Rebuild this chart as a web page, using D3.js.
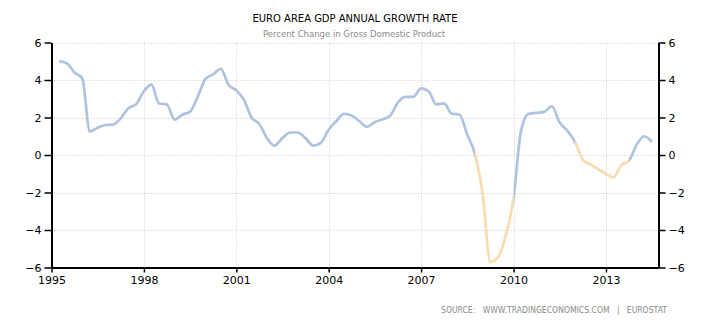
<!DOCTYPE html>
<html><head><meta charset="utf-8">
<script src="https://cdn.jsdelivr.net/npm/d3@7"></script>
<style>body{margin:0;background:#fff;}svg{display:block;}</style>
</head><body><svg id="c" width="710" height="325"></svg>
<script>
const quarters = [];
for (let y = 1995; y <= 2014; y++) for (let q = 1; q <= 4; q++) if (!(y === 2014 && q > 2)) quarters.push(y + "Q" + q);
const growth = [
  5.0, 4.9, 4.4, 4.1,
  1.25, 1.45, 1.6, 1.62,
  1.95, 2.5, 2.7, 3.4,
  3.75, 2.75, 2.7, 1.88,
  2.15, 2.3, 3.1, 4.05,
  4.3, 4.6, 3.75, 3.45,
  2.95, 2.0, 1.65, 0.9,
  0.5, 0.9, 1.2, 1.2,
  0.9, 0.5, 0.65, 1.35,
  1.8, 2.2, 2.1, 1.8,
  1.5, 1.75, 1.9, 2.1,
  2.8, 3.1, 3.1, 3.55,
  3.4, 2.7, 2.75, 2.2,
  2.15, 1.1, 0.05, -2.1,
  -5.7, -5.45, -4.3, -2.35,
  1.3, 2.2, 2.25, 2.3,
  2.6, 1.75, 1.3, 0.7,
  -0.25, -0.5, -0.75, -1.0,
  -1.2, -0.55, -0.3, 0.55,
  1.0, 0.7
];
const highlightRanges = [["2008Q3", "2009Q4"], ["2011Q4", "2013Q3"]];
const yTicks = [-6, -4, -2, 0, 2, 4, 6];
const xTickYears = [1995, 1998, 2001, 2004, 2007, 2010, 2013];

const title = "EURO AREA GDP ANNUAL GROWTH RATE";
const subtitle = "Percent Change in Gross Domestic Product";
const source = "SOURCE:   WWW.TRADINGECONOMICS.COM   |   EUROSTAT";

function qDate(s) { const y = +s.slice(0, 4), q = +s.slice(5); return new Date(y, q * 3, 0); }
const data = quarters.map((q, i) => ({ date: qDate(q), v: growth[i] }));

const svg = d3.select("#c");
const L = 51.5, R = 658.5, T = 42.5, B = 267.5;
const x = d3.scaleTime().domain([new Date(1995, 0, 1), new Date(2014, 8, 16)]).range([L, R]);
const y = d3.scaleLinear().domain([-6, 6]).range([B, T]);
const font = "DejaVu Sans, Verdana, sans-serif";

// grid
const g = svg.append("g");
g.selectAll(".hg").data(yTicks).enter().append("line")
  .attr("x1", L).attr("x2", R).attr("y1", d => Math.round(y(d)) + 0.5).attr("y2", d => Math.round(y(d)) + 0.5)
  .attr("stroke", "#c8c8c8").attr("stroke-dasharray", "1,2");
g.selectAll(".vg").data(xTickYears.slice(1)).enter().append("line")
  .attr("y1", T).attr("y2", B).attr("x1", d => Math.round(x(new Date(d, 0, 1))) + 0.5).attr("x2", d => Math.round(x(new Date(d, 0, 1))) + 0.5)
  .attr("stroke", "#c8c8c8").attr("stroke-dasharray", "1,2");

// line
const lineGen = d3.line().x(d => x(d.date)).y(d => y(d.v)).curve(d3.curveMonotoneX);
const defs = svg.append("defs");
const cp = defs.append("clipPath").attr("id", "hl");
highlightRanges.forEach(([a, b]) => {
  cp.append("rect").attr("x", x(qDate(a))).attr("width", x(qDate(b)) - x(qDate(a))).attr("y", 0).attr("height", 325);
});
const mask = defs.append("mask").attr("id", "nohl");
mask.append("rect").attr("x", 0).attr("y", 0).attr("width", 710).attr("height", 325).attr("fill", "#fff");
highlightRanges.forEach(([a, b]) => {
  mask.append("rect").attr("x", x(qDate(a))).attr("width", x(qDate(b)) - x(qDate(a))).attr("y", 0).attr("height", 325).attr("fill", "#000");
});
svg.append("path").datum(data).attr("d", lineGen).attr("fill", "none")
  .attr("stroke", "#aec3e0").attr("stroke-width", 2.7).attr("mask", "url(#nohl)");
svg.append("path").datum(data).attr("d", lineGen).attr("fill", "none")
  .attr("stroke", "#f8dcb0").attr("stroke-width", 2.7).attr("clip-path", "url(#hl)");

// axes
const yl = d3.axisLeft(y).tickValues(yTicks).tickSize(7).tickSizeOuter(0).tickPadding(3);
const yr = d3.axisRight(y).tickValues(yTicks).tickSize(7).tickSizeOuter(0).tickPadding(3);
const xb = d3.axisBottom(x).tickValues(xTickYears.map(d => new Date(d, 0, 1))).tickFormat(d3.timeFormat("%Y")).tickSize(5).tickSizeOuter(0).tickPadding(4);
function style(sel) {
  sel.selectAll("path").attr("stroke", "#000").attr("stroke-width", 2);
  sel.selectAll("line").attr("stroke", "#000").attr("stroke-width", 1.5);
  sel.selectAll("text").attr("fill", "#000").style("font-family", font).style("font-size", "11px");
}
svg.append("g").attr("transform", `translate(${L},0)`).call(yl).call(style);
svg.append("g").attr("transform", `translate(${R},0)`).call(yr).call(style);
svg.append("g").attr("transform", `translate(0,${B})`).call(xb).call(style);

// texts
svg.append("text").attr("x", 355).attr("y", 22).attr("text-anchor", "middle")
  .attr("textLength", 205).attr("lengthAdjust", "spacingAndGlyphs")
  .style("font-family", font).style("font-size", "11px").attr("fill", "#000").text(title);
svg.append("text").attr("x", 354).attr("y", 37).attr("text-anchor", "middle")
  .style("font-family", font).style("font-size", "8.5px").attr("fill", "#8a8a8a").text(subtitle);
svg.append("text").attr("x", 667).attr("y", 313).attr("text-anchor", "end")
  .attr("textLength", 226).attr("lengthAdjust", "spacingAndGlyphs")
  .style("font-family", font).style("font-size", "8px").attr("fill", "#8a8a8a").style("white-space", "pre").text(source);
</script></body></html>
